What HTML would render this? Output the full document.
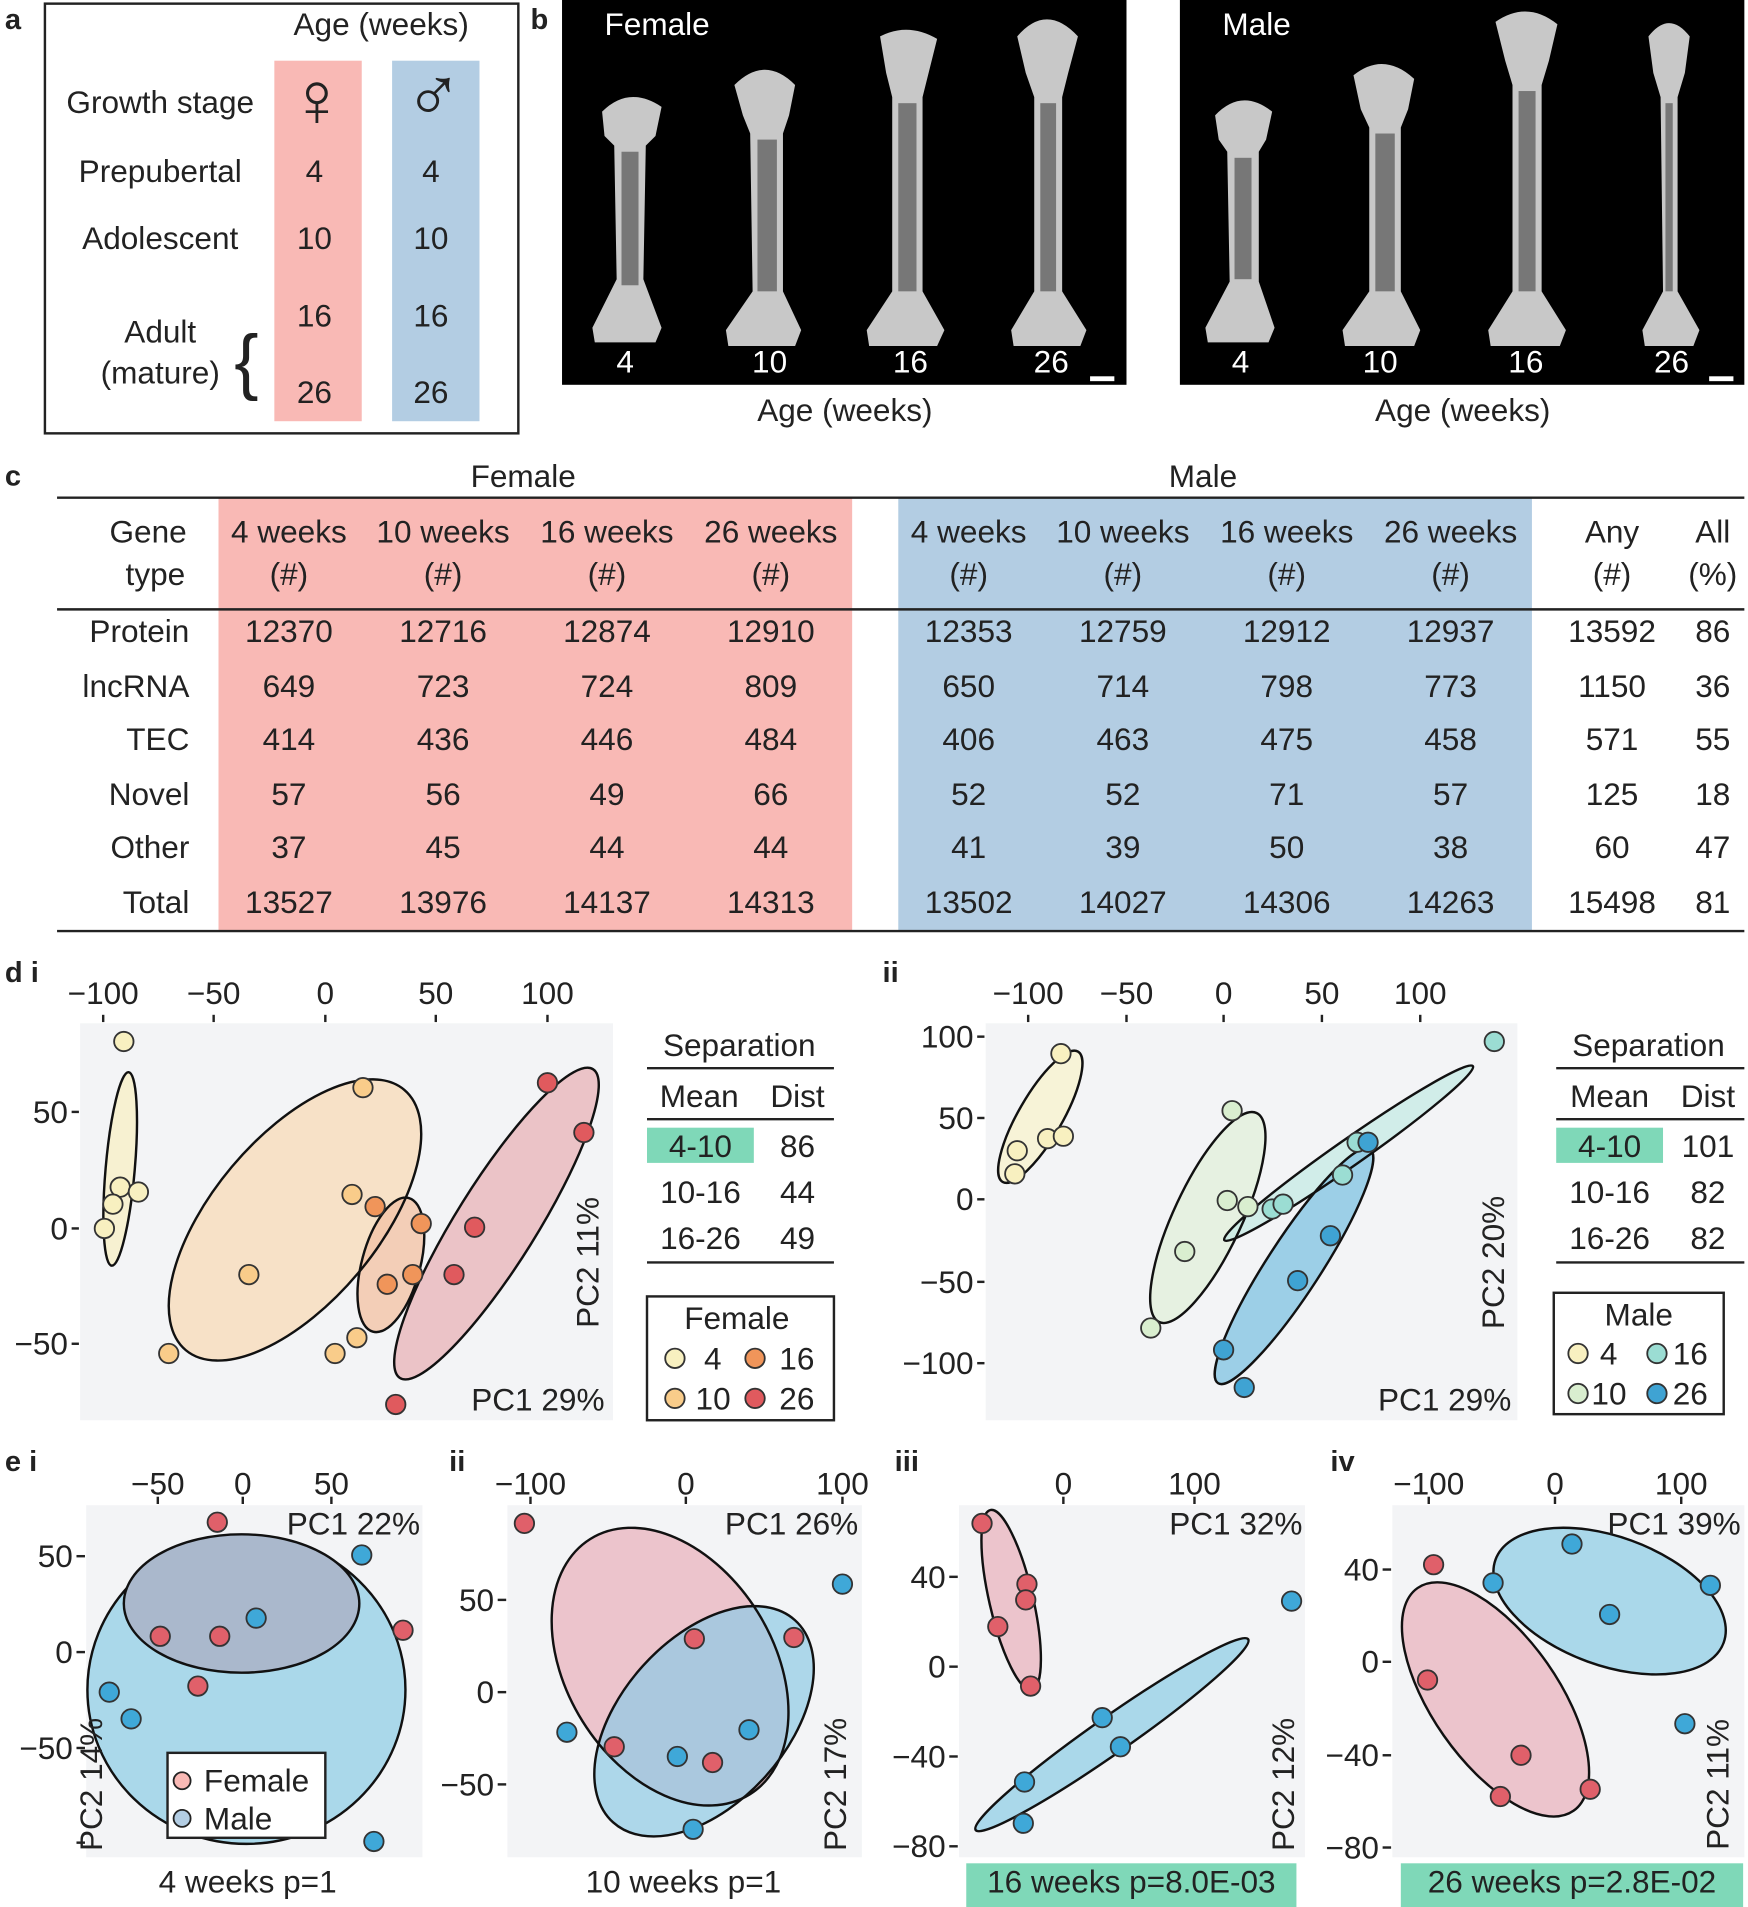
<!DOCTYPE html>
<html><head><meta charset="utf-8"><style>
html,body{margin:0;padding:0;background:#fff}
svg{display:block}
text{font-family:"Liberation Sans",sans-serif;fill:#222}
text.w{fill:#fff}
.b{font-weight:bold}
</style></head><body>
<svg width="1748" height="1907" viewBox="0 0 1440 1571" xmlns="http://www.w3.org/2000/svg">
<g font-size="26">
<!-- panel a -->
<text x="4" y="24" class="b" font-size="24">a</text>
<rect x="37" y="3" width="390" height="354" fill="none" stroke="#222" stroke-width="2"/>
<rect x="226" y="50" width="72" height="297" fill="#f9b9b5"/>
<rect x="323" y="50" width="72" height="297" fill="#b3cde3"/>
<text x="314" y="29" text-anchor="middle">Age (weeks)</text>
<text x="132" y="93" text-anchor="middle">Growth stage</text>
<text x="132" y="150" text-anchor="middle">Prepubertal</text>
<text x="132" y="205" text-anchor="middle">Adolescent</text>
<text x="132" y="282" text-anchor="middle">Adult</text>
<text x="132" y="316" text-anchor="middle">(mature)</text>
<text x="203" y="318" font-size="60" text-anchor="middle">{</text>
<text x="261" y="104" text-anchor="middle" font-size="64">♀</text>
<text x="357" y="100" text-anchor="middle" font-size="64">♂</text>
<g text-anchor="middle">
<text x="259" y="150">4</text><text x="355" y="150">4</text>
<text x="259" y="205">10</text><text x="355" y="205">10</text>
<text x="259" y="269">16</text><text x="355" y="269">16</text>
<text x="259" y="332">26</text><text x="355" y="332">26</text>
</g>
<!-- panel b -->
<text x="437" y="24" class="b" font-size="24">b</text>
<rect x="463" y="0" width="465" height="317" fill="#000"/>
<rect x="972" y="0" width="465" height="317" fill="#000"/>
<g fill="#c8c8c8">
<path d="M496 92 Q518 70 545 88 L540 112 L532 120 L530 230 L545 270 L540 282 L490 282 L488 270 L508 230 L506 120 L498 112Z"/>
<path d="M605 70 Q630 45 655 70 L650 95 L645 110 L645 240 L660 272 L655 285 L600 285 L598 272 L620 240 L618 110 L612 95Z"/>
<path d="M725 30 Q748 18 772 32 L765 60 L760 80 L760 240 L778 272 L772 285 L716 285 L714 272 L735 240 L735 80 L730 60Z"/>
<path d="M838 30 Q862 2 888 30 L880 60 L875 80 L875 240 L895 272 L890 285 L835 285 L833 272 L852 240 L852 80 L845 60Z"/>
<path d="M1001 95 Q1023 72 1048 92 L1043 115 L1037 125 L1037 232 L1050 270 L1045 282 L995 282 L993 270 L1013 232 L1011 125 L1004 115Z"/>
<path d="M1115 62 Q1140 42 1165 65 L1160 90 L1154 105 L1154 240 L1170 272 L1165 285 L1108 285 L1106 272 L1128 240 L1128 105 L1121 90Z"/>
<path d="M1232 18 Q1258 0 1283 20 L1276 50 L1270 70 L1270 240 L1290 272 L1285 285 L1228 285 L1226 272 L1246 240 L1246 70 L1240 50Z"/>
<path d="M1358 30 Q1375 8 1392 30 L1388 60 L1382 80 L1382 240 L1400 272 L1395 285 L1355 285 L1353 272 L1370 240 L1368 80 L1362 60Z"/>
</g>
<g fill="#777">
<rect x="512" y="125" width="14" height="110"/><rect x="624" y="115" width="16" height="125"/><rect x="740" y="85" width="15" height="155"/><rect x="857" y="85" width="13" height="155"/>
<rect x="1017" y="130" width="14" height="100"/><rect x="1133" y="110" width="16" height="130"/><rect x="1251" y="75" width="14" height="165"/><rect x="1372" y="85" width="6" height="155"/>
</g>
<g font-size="26">
<text class="w" x="498" y="29">Female</text><text class="w" x="1007" y="29">Male</text>
<text class="w" x="515" y="307" text-anchor="middle">4</text><text class="w" x="634" y="307" text-anchor="middle">10</text>
<text class="w" x="750" y="307" text-anchor="middle">16</text><text class="w" x="866" y="307" text-anchor="middle">26</text>
<text class="w" x="1022" y="307" text-anchor="middle">4</text><text class="w" x="1137" y="307" text-anchor="middle">10</text>
<text class="w" x="1257" y="307" text-anchor="middle">16</text><text class="w" x="1377" y="307" text-anchor="middle">26</text>
</g>
<rect x="898" y="310" width="20" height="4" fill="#fff"/><rect x="1408" y="310" width="20" height="4" fill="#fff"/>
<text x="696" y="347" text-anchor="middle">Age (weeks)</text>
<text x="1205" y="347" text-anchor="middle">Age (weeks)</text>
<!-- panel c -->
<text x="4" y="400" class="b" font-size="24">c</text>
<rect x="180" y="410" width="522" height="357" fill="#f9b9b5"/>
<rect x="740" y="410" width="522" height="357" fill="#b3cde3"/>
<line x1="47" y1="410" x2="1437" y2="410" stroke="#222" stroke-width="2"/>
<line x1="47" y1="502" x2="1437" y2="502" stroke="#222" stroke-width="2"/>
<line x1="47" y1="767" x2="1437" y2="767" stroke="#222" stroke-width="2"/>
<text x="431" y="401" text-anchor="middle">Female</text>
<text x="991" y="401" text-anchor="middle">Male</text>
<g text-anchor="middle">
<text x="122" y="447">Gene</text><text x="128" y="482">type</text>
<text x="238" y="447">4 weeks</text><text x="238" y="482">(#)</text>
<text x="365" y="447">10 weeks</text><text x="365" y="482">(#)</text>
<text x="500" y="447">16 weeks</text><text x="500" y="482">(#)</text>
<text x="635" y="447">26 weeks</text><text x="635" y="482">(#)</text>
<text x="798" y="447">4 weeks</text><text x="798" y="482">(#)</text>
<text x="925" y="447">10 weeks</text><text x="925" y="482">(#)</text>
<text x="1060" y="447">16 weeks</text><text x="1060" y="482">(#)</text>
<text x="1195" y="447">26 weeks</text><text x="1195" y="482">(#)</text>
<text x="1328" y="447">Any</text><text x="1328" y="482">(#)</text>
<text x="1411" y="447">All</text><text x="1411" y="482">(%)</text>
</g>
<g text-anchor="end">
<text x="156" y="529">Protein</text><text x="156" y="574">lncRNA</text><text x="156" y="618">TEC</text>
<text x="156" y="663">Novel</text><text x="156" y="707">Other</text><text x="156" y="752">Total</text>
</g>
<g text-anchor="middle">
<text x="238" y="529">12370</text><text x="365" y="529">12716</text><text x="500" y="529">12874</text><text x="635" y="529">12910</text><text x="798" y="529">12353</text><text x="925" y="529">12759</text><text x="1060" y="529">12912</text><text x="1195" y="529">12937</text><text x="1328" y="529">13592</text><text x="1411" y="529">86</text>
<text x="238" y="574">649</text><text x="365" y="574">723</text><text x="500" y="574">724</text><text x="635" y="574">809</text><text x="798" y="574">650</text><text x="925" y="574">714</text><text x="1060" y="574">798</text><text x="1195" y="574">773</text><text x="1328" y="574">1150</text><text x="1411" y="574">36</text>
<text x="238" y="618">414</text><text x="365" y="618">436</text><text x="500" y="618">446</text><text x="635" y="618">484</text><text x="798" y="618">406</text><text x="925" y="618">463</text><text x="1060" y="618">475</text><text x="1195" y="618">458</text><text x="1328" y="618">571</text><text x="1411" y="618">55</text>
<text x="238" y="663">57</text><text x="365" y="663">56</text><text x="500" y="663">49</text><text x="635" y="663">66</text><text x="798" y="663">52</text><text x="925" y="663">52</text><text x="1060" y="663">71</text><text x="1195" y="663">57</text><text x="1328" y="663">125</text><text x="1411" y="663">18</text>
<text x="238" y="707">37</text><text x="365" y="707">45</text><text x="500" y="707">44</text><text x="635" y="707">44</text><text x="798" y="707">41</text><text x="925" y="707">39</text><text x="1060" y="707">50</text><text x="1195" y="707">38</text><text x="1328" y="707">60</text><text x="1411" y="707">47</text>
<text x="238" y="752">13527</text><text x="365" y="752">13976</text><text x="500" y="752">14137</text><text x="635" y="752">14313</text><text x="798" y="752">13502</text><text x="925" y="752">14027</text><text x="1060" y="752">14306</text><text x="1195" y="752">14263</text><text x="1328" y="752">15498</text><text x="1411" y="752">81</text>
</g>

<!-- panel d i -->
<text x="4" y="809" class="b" font-size="24">d i</text>
<rect x="66" y="843" width="439" height="327" fill="#f3f4f6"/>
<g text-anchor="middle"><text x="85" y="827">−100</text><text x="176" y="827">−50</text><text x="268" y="827">0</text><text x="359" y="827">50</text><text x="451" y="827">100</text></g>
<g stroke="#222" stroke-width="2"><line x1="85" y1="836" x2="85" y2="842"/><line x1="176" y1="836" x2="176" y2="842"/><line x1="268" y1="836" x2="268" y2="842"/><line x1="359" y1="836" x2="359" y2="842"/><line x1="451" y1="836" x2="451" y2="842"/>
<line x1="59" y1="916" x2="65" y2="916"/><line x1="59" y1="1012" x2="65" y2="1012"/><line x1="59" y1="1107" x2="65" y2="1107"/></g>
<g text-anchor="end"><text x="56" y="925">50</text><text x="56" y="1021">0</text><text x="56" y="1116">−50</text></g>
<text x="498" y="1162" text-anchor="end">PC1 29%</text>
<text transform="translate(493,1040) rotate(-90)" text-anchor="middle">PC2 11%</text>
<g stroke="none">
<ellipse cx="99" cy="963" rx="12" ry="80" transform="rotate(5 99 963)" fill="#f8f0c8" fill-opacity="0.8"/>
<ellipse cx="243" cy="1005" rx="68" ry="140" transform="rotate(40 243 1005)" fill="#f8dcbc" fill-opacity="0.8"/>
<ellipse cx="322" cy="1042" rx="24" ry="57" transform="rotate(15 322 1042)" fill="#f2c4a8" fill-opacity="0.8"/>
<ellipse cx="409" cy="1008" rx="33" ry="150" transform="rotate(32 409 1008)" fill="#e8b6bc" fill-opacity="0.8"/>
</g>
<g stroke="#111" stroke-width="2" fill="none">
<ellipse cx="99" cy="963" rx="12" ry="80" transform="rotate(5 99 963)"/>
<ellipse cx="243" cy="1005" rx="68" ry="140" transform="rotate(40 243 1005)"/>
<ellipse cx="322" cy="1042" rx="24" ry="57" transform="rotate(15 322 1042)"/>
<ellipse cx="409" cy="1008" rx="33" ry="150" transform="rotate(32 409 1008)"/>
</g>
<g stroke="#333" stroke-width="1.5">
<g fill="#f8f0c0"><circle cx="102" cy="858" r="8"/><circle cx="99" cy="978" r="8"/><circle cx="93" cy="992" r="8"/><circle cx="86" cy="1012" r="8"/><circle cx="114" cy="982" r="8"/></g>
<g fill="#f9cc8a"><circle cx="299" cy="896" r="8"/><circle cx="290" cy="984" r="8"/><circle cx="205" cy="1050" r="8"/><circle cx="139" cy="1115" r="8"/><circle cx="276" cy="1115" r="8"/><circle cx="294" cy="1102" r="8"/></g>
<g fill="#f0955a"><circle cx="309" cy="994" r="8"/><circle cx="347" cy="1008" r="8"/><circle cx="340" cy="1050" r="8"/><circle cx="319" cy="1058" r="8"/></g>
<g fill="#e05a5e"><circle cx="451" cy="892" r="8"/><circle cx="481" cy="933" r="8"/><circle cx="391" cy="1011" r="8"/><circle cx="374" cy="1050" r="8"/><circle cx="326" cy="1157" r="8"/></g>
</g>
<rect x="533" y="929" width="88" height="29" fill="#7fd8b8"/>
<g stroke="#222" stroke-width="2"><line x1="533" y1="880" x2="687" y2="880"/><line x1="533" y1="922" x2="687" y2="922"/><line x1="533" y1="1040" x2="687" y2="1040"/></g>
<text x="609" y="870" text-anchor="middle">Separation</text>
<text x="576" y="912" text-anchor="middle">Mean</text><text x="657" y="912" text-anchor="middle">Dist</text>
<g text-anchor="middle"><text x="577" y="953">4-10</text><text x="657" y="953">86</text><text x="577" y="991">10-16</text><text x="657" y="991">44</text><text x="577" y="1029">16-26</text><text x="657" y="1029">49</text></g>
<rect x="533" y="1068" width="154" height="102" fill="#fff" stroke="#222" stroke-width="2"/>
<text x="607" y="1095" text-anchor="middle">Female</text>
<g stroke="#333" stroke-width="1.5"><circle cx="556" cy="1119" r="8" fill="#f8f0c0"/><circle cx="622" cy="1119" r="8" fill="#f0955a"/><circle cx="556" cy="1152" r="8" fill="#f9cc8a"/><circle cx="622" cy="1152" r="8" fill="#e05a5e"/></g>
<text x="580" y="1128">4</text><text x="642" y="1128">16</text><text x="573" y="1161">10</text><text x="642" y="1161">26</text>

<!-- panel d ii -->
<text x="727" y="809" class="b" font-size="24">ii</text>
<rect x="812" y="843" width="438" height="327" fill="#f3f4f6"/>
<g text-anchor="middle"><text x="847" y="827">−100</text><text x="928" y="827">−50</text><text x="1008" y="827">0</text><text x="1089" y="827">50</text><text x="1170" y="827">100</text></g>
<g stroke="#222" stroke-width="2"><line x1="847" y1="836" x2="847" y2="842"/><line x1="928" y1="836" x2="928" y2="842"/><line x1="1008" y1="836" x2="1008" y2="842"/><line x1="1089" y1="836" x2="1089" y2="842"/><line x1="1170" y1="836" x2="1170" y2="842"/>
<line x1="805" y1="854" x2="811" y2="854"/><line x1="805" y1="921" x2="811" y2="921"/><line x1="805" y1="988" x2="811" y2="988"/><line x1="805" y1="1056" x2="811" y2="1056"/><line x1="805" y1="1123" x2="811" y2="1123"/></g>
<g text-anchor="end"><text x="802" y="863">100</text><text x="802" y="930">50</text><text x="802" y="997">0</text><text x="802" y="1065">−50</text><text x="802" y="1132">−100</text></g>
<text x="1245" y="1162" text-anchor="end">PC1 29%</text>
<text transform="translate(1239,1040) rotate(-90)" text-anchor="middle">PC2 20%</text>
<g>
<ellipse cx="857" cy="920" rx="18" ry="62" transform="rotate(30 857 920)" fill="#f8f2d0" fill-opacity="0.8"/>
<ellipse cx="995" cy="1003" rx="28" ry="95" transform="rotate(25 995 1003)" fill="#e2f0dc" fill-opacity="0.8"/>
<ellipse cx="1111" cy="950" rx="11" ry="125" transform="rotate(55 1111 950)" fill="#c8ebe6" fill-opacity="0.8"/>
<ellipse cx="1066" cy="1043" rx="22" ry="115" transform="rotate(33 1066 1043)" fill="#8cc8e4" fill-opacity="0.85"/>
</g>
<g stroke="#111" stroke-width="2" fill="none">
<ellipse cx="857" cy="920" rx="18" ry="62" transform="rotate(30 857 920)"/>
<ellipse cx="995" cy="1003" rx="28" ry="95" transform="rotate(25 995 1003)"/>
<ellipse cx="1111" cy="950" rx="11" ry="125" transform="rotate(55 1111 950)"/>
<ellipse cx="1066" cy="1043" rx="22" ry="115" transform="rotate(33 1066 1043)"/>
</g>
<g stroke="#333" stroke-width="1.5">
<g fill="#f8f0c0"><circle cx="874" cy="868" r="8"/><circle cx="838" cy="948" r="8"/><circle cx="836" cy="967" r="8"/><circle cx="863" cy="938" r="8"/><circle cx="876" cy="936" r="8"/></g>
<g fill="#d9eecf"><circle cx="1015" cy="915" r="8"/><circle cx="1011" cy="989" r="8"/><circle cx="1028" cy="994" r="8"/><circle cx="976" cy="1031" r="8"/><circle cx="948" cy="1094" r="8"/></g>
<g fill="#9bddd3"><circle cx="1231" cy="858" r="8"/><circle cx="1118" cy="941" r="8"/><circle cx="1106" cy="968" r="8"/><circle cx="1048" cy="996" r="8"/><circle cx="1057" cy="992" r="8"/></g>
<g fill="#3fa3d3"><circle cx="1127" cy="941" r="8"/><circle cx="1096" cy="1018" r="8"/><circle cx="1069" cy="1055" r="8"/><circle cx="1008" cy="1112" r="8"/><circle cx="1025" cy="1143" r="8"/></g>
</g>
<rect x="1282" y="929" width="88" height="29" fill="#7fd8b8"/>
<g stroke="#222" stroke-width="2"><line x1="1282" y1="880" x2="1437" y2="880"/><line x1="1282" y1="922" x2="1437" y2="922"/><line x1="1282" y1="1040" x2="1437" y2="1040"/></g>
<text x="1358" y="870" text-anchor="middle">Separation</text>
<text x="1326" y="912" text-anchor="middle">Mean</text><text x="1407" y="912" text-anchor="middle">Dist</text>
<g text-anchor="middle"><text x="1326" y="953">4-10</text><text x="1407" y="953">101</text><text x="1326" y="991">10-16</text><text x="1407" y="991">82</text><text x="1326" y="1029">16-26</text><text x="1407" y="1029">82</text></g>
<rect x="1280" y="1065" width="140" height="100" fill="#fff" stroke="#222" stroke-width="2"/>
<text x="1350" y="1092" text-anchor="middle">Male</text>
<g stroke="#333" stroke-width="1.5"><circle cx="1300" cy="1115" r="8" fill="#f8f0c0"/><circle cx="1365" cy="1115" r="8" fill="#9bddd3"/><circle cx="1300" cy="1148" r="8" fill="#d9eecf"/><circle cx="1365" cy="1148" r="8" fill="#3fa3d3"/></g>
<text x="1318" y="1124">4</text><text x="1378" y="1124">16</text><text x="1311" y="1157">10</text><text x="1378" y="1157">26</text>

<!-- panel e i -->
<text x="4" y="1212" class="b" font-size="24">e i</text>
<rect x="71" y="1240" width="277" height="290" fill="#f3f4f6"/>
<g text-anchor="middle"><text x="130" y="1231">−50</text><text x="200" y="1231">0</text><text x="273" y="1231">50</text></g>
<g stroke="#222" stroke-width="2"><line x1="130" y1="1233" x2="130" y2="1239"/><line x1="200" y1="1233" x2="200" y2="1239"/><line x1="273" y1="1233" x2="273" y2="1239"/>
<line x1="63" y1="1282" x2="70" y2="1282"/><line x1="63" y1="1361" x2="70" y2="1361"/><line x1="63" y1="1440" x2="70" y2="1440"/><line x1="63" y1="1518" x2="70" y2="1518"/></g>
<g text-anchor="end"><text x="60" y="1291">50</text><text x="60" y="1370">0</text><text x="60" y="1449">−50</text></g>
<text x="346" y="1264" text-anchor="end">PC1 22%</text>
<g stroke="#111" stroke-width="2">
<ellipse cx="203" cy="1392" rx="131" ry="127" fill="#aad8ea"/>
<ellipse cx="199" cy="1321" rx="97" ry="57" fill="#aab8cc"/>
</g>
<text transform="translate(84,1470) rotate(-90)" text-anchor="middle">PC2 14%</text>
<g stroke="#333" stroke-width="1.5">
<g fill="#e0606a"><circle cx="179" cy="1254" r="8"/><circle cx="332" cy="1343" r="8"/><circle cx="132" cy="1348" r="8"/><circle cx="181" cy="1348" r="8"/><circle cx="163" cy="1389" r="8"/></g>
<g fill="#3fa8d8"><circle cx="298" cy="1281" r="8"/><circle cx="211" cy="1333" r="8"/><circle cx="90" cy="1394" r="8"/><circle cx="108" cy="1416" r="8"/><circle cx="308" cy="1517" r="8"/></g>
</g>
<rect x="138" y="1444" width="130" height="70" fill="#fff" stroke="#222" stroke-width="2"/>
<circle cx="150" cy="1467" r="7" fill="#f9b9b5" stroke="#222" stroke-width="1.5"/><circle cx="150" cy="1498" r="7" fill="#b3cde3" stroke="#222" stroke-width="1.5"/>
<text x="168" y="1476">Female</text><text x="168" y="1507">Male</text>
<text x="204" y="1559" text-anchor="middle">4 weeks p=1</text>

<!-- panel e ii -->
<text x="370" y="1212" class="b" font-size="24">ii</text>
<rect x="418" y="1240" width="292" height="290" fill="#f3f4f6"/>
<g text-anchor="middle"><text x="437" y="1231">−100</text><text x="565" y="1231">0</text><text x="694" y="1231">100</text></g>
<g stroke="#222" stroke-width="2"><line x1="437" y1="1233" x2="437" y2="1239"/><line x1="565" y1="1233" x2="565" y2="1239"/><line x1="694" y1="1233" x2="694" y2="1239"/>
<line x1="410" y1="1318" x2="417" y2="1318"/><line x1="410" y1="1394" x2="417" y2="1394"/><line x1="410" y1="1470" x2="417" y2="1470"/></g>
<g text-anchor="end"><text x="407" y="1327">50</text><text x="407" y="1403">0</text><text x="407" y="1479">−50</text></g>
<text x="707" y="1264" text-anchor="end">PC1 26%</text>
<ellipse cx="552" cy="1373" rx="85" ry="124" transform="rotate(-32 552 1373)" fill="#ecc4cc"/>
<ellipse cx="580" cy="1418" rx="68" ry="112" transform="rotate(42 580 1418)" fill="#8ecbe6" fill-opacity="0.7"/>
<g stroke="#111" stroke-width="2" fill="none">
<ellipse cx="552" cy="1373" rx="85" ry="124" transform="rotate(-32 552 1373)"/>
<ellipse cx="580" cy="1418" rx="68" ry="112" transform="rotate(42 580 1418)"/>
</g>
<text transform="translate(697,1470) rotate(-90)" text-anchor="middle">PC2 17%</text>
<g stroke="#333" stroke-width="1.5">
<g fill="#e0606a"><circle cx="432" cy="1255" r="8"/><circle cx="572" cy="1350" r="8"/><circle cx="654" cy="1349" r="8"/><circle cx="506" cy="1439" r="8"/><circle cx="587" cy="1452" r="8"/></g>
<g fill="#3fa8d8"><circle cx="694" cy="1305" r="8"/><circle cx="467" cy="1427" r="8"/><circle cx="617" cy="1425" r="8"/><circle cx="558" cy="1447" r="8"/><circle cx="571" cy="1507" r="8"/></g>
</g>
<text x="563" y="1559" text-anchor="middle">10 weeks p=1</text>

<!-- panel e iii -->
<text x="737" y="1212" class="b" font-size="24">iii</text>
<rect x="790" y="1240" width="285" height="290" fill="#f3f4f6"/>
<g text-anchor="middle"><text x="876" y="1231">0</text><text x="984" y="1231">100</text></g>
<g stroke="#222" stroke-width="2"><line x1="876" y1="1233" x2="876" y2="1239"/><line x1="984" y1="1233" x2="984" y2="1239"/>
<line x1="782" y1="1299" x2="789" y2="1299"/><line x1="782" y1="1373" x2="789" y2="1373"/><line x1="782" y1="1447" x2="789" y2="1447"/><line x1="782" y1="1521" x2="789" y2="1521"/></g>
<g text-anchor="end"><text x="779" y="1308">40</text><text x="779" y="1382">0</text><text x="779" y="1456">−40</text><text x="779" y="1530">−80</text></g>
<text x="1073" y="1264" text-anchor="end">PC1 32%</text>
<g stroke="#111" stroke-width="2">
<ellipse cx="833" cy="1318" rx="18" ry="76" transform="rotate(-13 833 1318)" fill="#ecc4cc"/>
<ellipse cx="916" cy="1429" rx="15" ry="137" transform="rotate(55 916 1429)" fill="#aad8ea"/>
</g>
<text transform="translate(1066,1470) rotate(-90)" text-anchor="middle">PC2 12%</text>
<g stroke="#333" stroke-width="1.5">
<g fill="#e0606a"><circle cx="809" cy="1255" r="8"/><circle cx="846" cy="1305" r="8"/><circle cx="845" cy="1318" r="8"/><circle cx="822" cy="1340" r="8"/><circle cx="849" cy="1389" r="8"/></g>
<g fill="#3fa8d8"><circle cx="1064" cy="1319" r="8"/><circle cx="908" cy="1415" r="8"/><circle cx="923" cy="1439" r="8"/><circle cx="844" cy="1468" r="8"/><circle cx="843" cy="1502" r="8"/></g>
</g>
<rect x="796" y="1535" width="272" height="36" fill="#7fd8b8"/>
<text x="932" y="1559" text-anchor="middle">16 weeks p=8.0E-03</text>

<!-- panel e iv -->
<text x="1096" y="1212" class="b" font-size="24">iv</text>
<rect x="1147" y="1240" width="290" height="290" fill="#f3f4f6"/>
<g text-anchor="middle"><text x="1177" y="1231">−100</text><text x="1281" y="1231">0</text><text x="1385" y="1231">100</text></g>
<g stroke="#222" stroke-width="2"><line x1="1177" y1="1233" x2="1177" y2="1239"/><line x1="1281" y1="1233" x2="1281" y2="1239"/><line x1="1385" y1="1233" x2="1385" y2="1239"/>
<line x1="1139" y1="1293" x2="1146" y2="1293"/><line x1="1139" y1="1369" x2="1146" y2="1369"/><line x1="1139" y1="1446" x2="1146" y2="1446"/><line x1="1139" y1="1522" x2="1146" y2="1522"/></g>
<g text-anchor="end"><text x="1136" y="1302">40</text><text x="1136" y="1378">0</text><text x="1136" y="1455">−40</text><text x="1136" y="1531">−80</text></g>
<g stroke="#111" stroke-width="2">
<ellipse cx="1232" cy="1400" rx="52" ry="112" transform="rotate(-35 1232 1400)" fill="#ecc4cc"/>
<ellipse cx="1326" cy="1319" rx="100" ry="53" transform="rotate(20 1326 1319)" fill="#aad8ea"/>
</g>
<text x="1434" y="1264" text-anchor="end">PC1 39%</text>
<text transform="translate(1424,1470) rotate(-90)" text-anchor="middle">PC2 11%</text>
<g stroke="#333" stroke-width="1.5">
<g fill="#e0606a"><circle cx="1181" cy="1289" r="8"/><circle cx="1176" cy="1384" r="8"/><circle cx="1253" cy="1446" r="8"/><circle cx="1236" cy="1480" r="8"/><circle cx="1310" cy="1474" r="8"/></g>
<g fill="#3fa8d8"><circle cx="1295" cy="1272" r="8"/><circle cx="1230" cy="1304" r="8"/><circle cx="1409" cy="1306" r="8"/><circle cx="1326" cy="1330" r="8"/><circle cx="1388" cy="1420" r="8"/></g>
</g>
<rect x="1154" y="1535" width="282" height="36" fill="#7fd8b8"/>
<text x="1295" y="1559" text-anchor="middle">26 weeks p=2.8E-02</text>
</g>
</svg>
</body></html>
